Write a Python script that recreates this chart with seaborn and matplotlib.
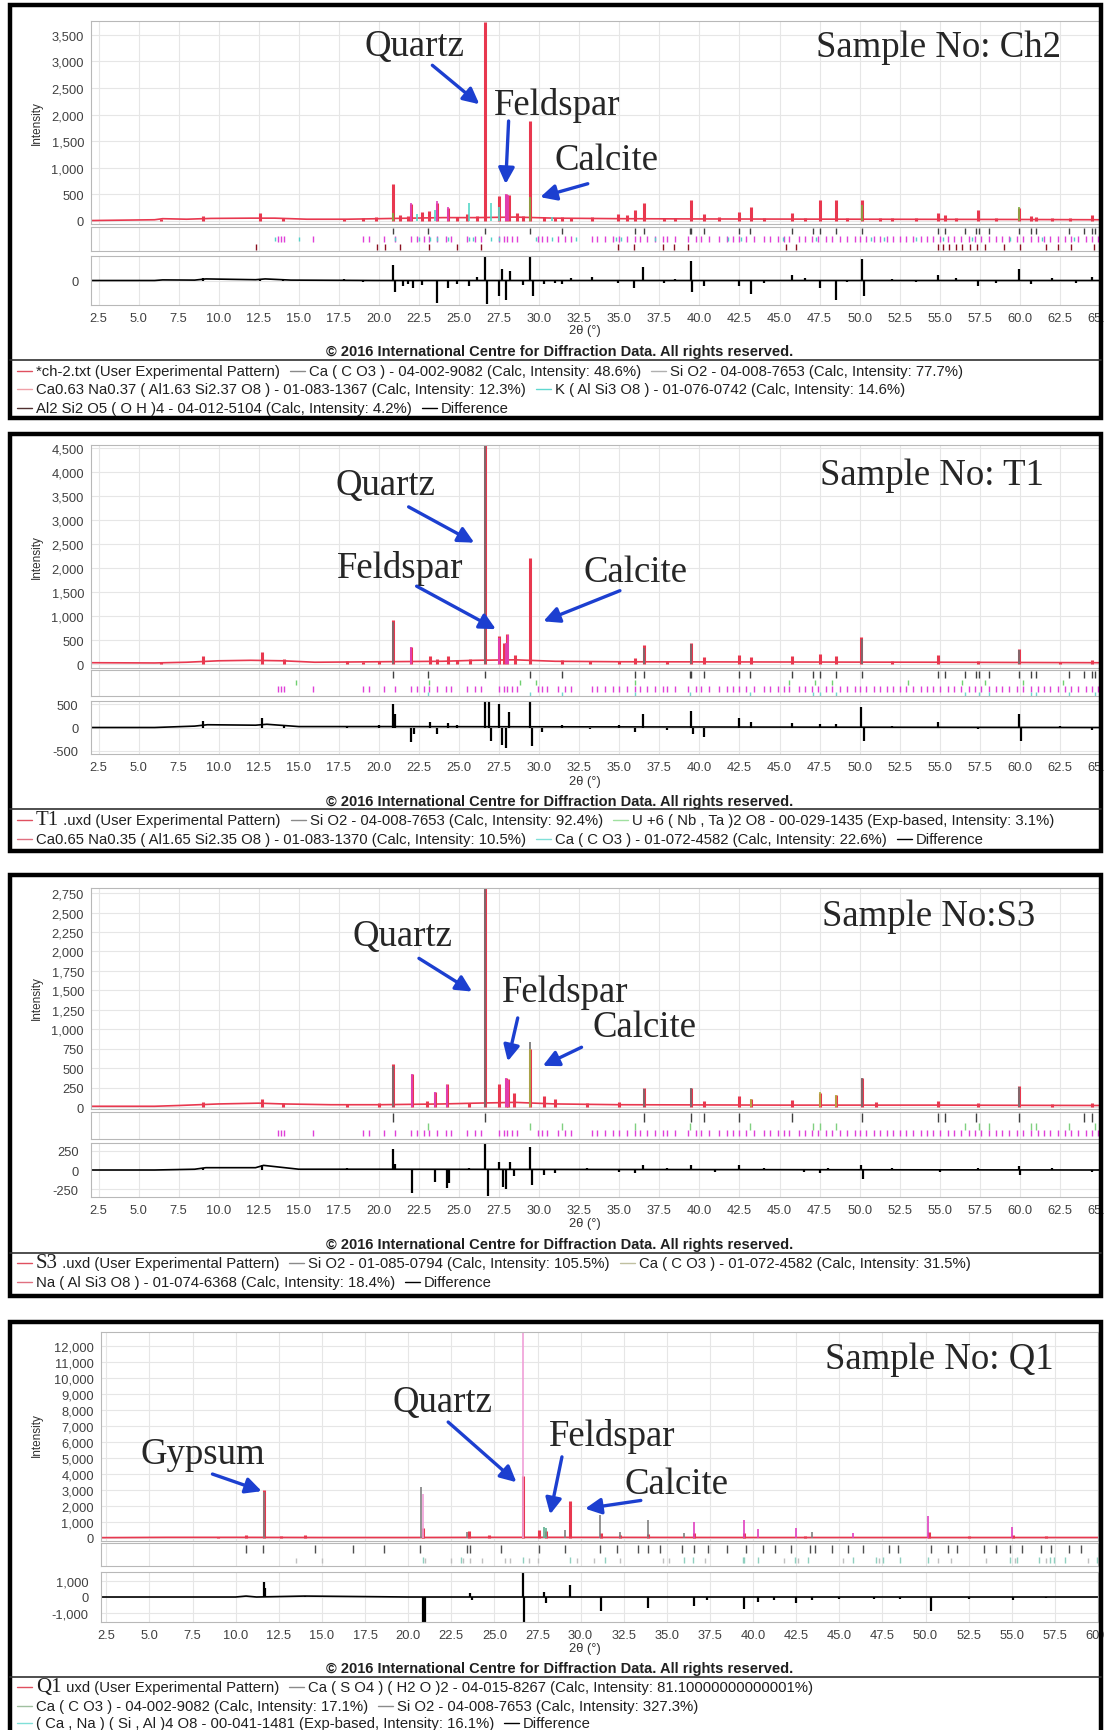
import numpy as np
import pandas as pd
import matplotlib
matplotlib.use("Agg")
import matplotlib.pyplot as plt
import seaborn as sns
from matplotlib.patches import Rectangle
from matplotlib.lines import Line2D
from matplotlib.ticker import MultipleLocator, FixedLocator, FuncFormatter

# --- 1. Data ---
# reference line positions (2theta) used in the tick strips
QUARTZ_REF = [20.86, 26.64, 36.54, 39.47, 40.29, 42.45, 45.79, 50.14, 54.87, 55.33, 57.24, 59.96, 63.99, 64.5]
CALCITE_REF = [23.06, 29.41, 31.44, 35.97, 39.42, 43.16, 47.12, 47.52, 48.52, 56.58, 57.42, 58.1, 60.68, 61.0, 63.07, 64.69]
PLAG_REF = [13.7, 13.9, 14.1, 15.9, 19.0, 19.4, 20.3, 21.0, 22.0, 22.4, 22.8, 23.1, 23.6, 24.2, 24.5, 25.5, 26.0,
            26.4, 27.5, 27.8, 28.0, 28.3, 28.6, 29.9, 30.2, 30.5, 31.2, 31.6, 32.0, 33.3, 33.6, 34.1, 34.6, 35.0,
            35.5, 36.0, 36.3, 36.7, 37.2, 37.7, 38.0, 38.5, 39.3, 39.8, 40.1, 40.6, 41.2, 41.7, 42.1, 42.5, 42.9,
            43.4, 44.0, 44.4, 44.9, 45.3, 45.6, 46.2, 46.6, 47.0, 47.4, 47.9, 48.3, 48.8, 49.2, 49.7, 50.0, 50.4,
            50.9, 51.3, 51.7, 52.1, 52.5, 52.9, 53.3, 53.8, 54.2, 54.6, 55.0, 55.5, 55.9, 56.3, 56.8, 57.2, 57.6,
            58.1, 58.5, 58.9, 59.3, 59.8, 60.2, 60.7, 61.1, 61.5, 61.9, 62.4, 62.8, 63.2, 63.6, 64.1, 64.5, 64.9]
KSPAR_REF = [13.5, 15.0, 21.0, 22.5, 23.2, 23.6, 24.3, 25.6, 25.9, 27.0, 27.5, 29.8, 30.8, 32.3, 34.8, 35.1,
             37.2, 41.8, 42.6, 45.2, 47.3, 50.7, 51.5, 53.5, 55.2, 57.0, 59.4, 61.4, 63.4]
KAOL_REF = [12.35, 19.9, 20.4, 21.3, 23.1, 24.9, 26.4, 34.9, 35.9, 37.7, 38.4, 39.3, 45.4, 46.0, 54.9, 55.2,
            55.6, 56.0, 56.4, 56.9, 57.3, 57.8, 59.0, 60.0, 61.6, 62.4, 63.2, 64.6]
GYPSUM_REF = [10.6, 11.6, 14.6, 16.8, 18.6, 20.7, 23.4, 23.6, 25.4, 27.6, 29.1, 31.1, 32.1, 33.3, 33.9, 34.6,
              35.9, 36.6, 37.4, 38.5, 39.6, 40.6, 41.3, 42.2, 43.3, 43.6, 44.6, 45.5, 46.4, 47.9, 48.4, 50.3,
              51.3, 51.8, 53.4, 54.1, 54.9, 55.6, 56.7, 57.3, 58.3, 59.0]
UNB_REF = [14.8, 23.1, 28.8, 29.8, 36.0, 45.6, 47.2, 48.3, 53.0, 56.4, 57.8, 60.2, 62.7]

# Sample Ch2
CH2_BG_X = [2.0, 6.0, 6.5, 8.0, 9.5, 12.0, 13.5, 15.5, 18.0, 20.0, 24.0, 26.0, 28.5, 31.0, 35.0, 40.0, 50.0, 60.0, 65.0]
CH2_BG_Y = [5, 20, 40, 30, 45, 50, 50, 30, 30, 40, 60, 60, 70, 50, 40, 35, 30, 25, 20]
CH2_PEAK_X = [6.4, 9.0, 12.6, 14.0, 17.8, 19.0, 19.8, 20.85, 21.3, 21.8, 22.0, 22.7, 23.1, 23.6, 24.3, 24.9, 25.5,
              26.1, 26.65, 27.5, 27.95, 28.1, 28.6, 29.0, 29.45, 30.3, 31.0, 31.4, 32.0, 33.3, 34.9, 35.5, 36.0,
              36.55, 37.8, 38.5, 39.45, 40.3, 41.2, 42.45, 43.2, 44.0, 45.8, 46.6, 47.55, 48.55, 49.2, 50.15, 51.3,
              52.0, 53.5, 54.9, 55.3, 56.0, 57.4, 58.5, 59.95, 60.7, 61.0, 62.0, 63.1, 64.5]
CH2_PEAK_Y = [40, 90, 150, 60, 40, 50, 70, 700, 100, 90, 320, 160, 180, 330, 240, 80, 120, 90, 3750, 460, 500, 480,
              150, 90, 1870, 70, 60, 80, 50, 70, 120, 100, 210, 330, 60, 50, 400, 130, 80, 160, 260, 60, 150, 50,
              400, 400, 60, 390, 60, 50, 50, 140, 100, 60, 200, 50, 250, 90, 80, 60, 60, 100]
CH2_KSP_X = [22.4, 23.5, 25.6, 27.0, 27.5, 30.8]
CH2_KSP_Y = [120, 200, 340, 330, 260, 80]
CH2_PLG_X = [22.0, 23.6, 24.3, 27.9, 28.05]
CH2_PLG_Y = [340, 380, 260, 500, 480]
CH2_CAL_X = [20.85, 29.45, 50.15, 59.95]
CH2_CAL_Y = [140, 450, 300, 260]
CH2_DIFF_BG_X = [2.0, 6.0, 6.5, 8.5, 9.2, 12.3, 12.9, 14.5, 20.0, 65.0]
CH2_DIFF_BG_Y = [0, 0, 15, 10, 40, 20, 40, 10, 0, 0]
CH2_DIFF_X = [9.0, 12.6, 14.0, 17.8, 19.0, 20.85, 21.0, 21.5, 21.8, 22.1, 22.7, 23.6, 24.3, 24.9, 25.6, 26.1, 26.6,
              26.75, 27.5, 27.7, 27.95, 28.2, 29.0, 29.4, 29.6, 30.3, 31.0, 31.4, 32.0, 33.3, 34.9, 35.9, 36.5,
              37.8, 38.5, 39.45, 39.55, 40.3, 42.45, 43.2, 44.0, 45.8, 46.6, 47.5, 48.5, 49.2, 50.15, 50.3, 52.0,
              53.5, 54.9, 56.0, 57.4, 58.5, 59.95, 60.7, 62.0, 63.5, 64.5]
CH2_DIFF_Y = [60, 50, 40, 30, -40, 400, -300, -150, -100, -200, -120, -580, -200, -90, -150, 80, 600, -600, -400,
              300, -500, 250, -120, 600, -400, -100, -60, -80, 60, 90, -70, -200, 350, -70, 50, 500, -300, -150,
              -150, -350, -60, 150, 60, -200, -500, -50, 550, -400, 40, -50, 150, 60, -150, -60, 300, -100, 60,
              -70, 80]

# Sample T1
T1_BG_X = [2.0, 6.0, 8.0, 10.0, 12.0, 14.0, 16.0, 20.0, 24.0, 26.0, 28.5, 31.0, 35.0, 45.0, 55.0, 65.0]
T1_BG_Y = [30, 25, 40, 70, 80, 70, 40, 50, 60, 80, 90, 60, 50, 45, 40, 30]
T1_PEAK_X = [6.4, 9.0, 12.7, 14.1, 18.0, 19.0, 20.0, 20.85, 22.0, 23.2, 23.6, 24.3, 24.9, 25.7, 26.65, 27.5, 27.8,
             28.0, 28.5, 29.45, 31.4, 33.2, 35.0, 36.0, 36.55, 38.0, 39.45, 40.3, 42.45, 43.2, 45.8, 47.5, 48.5,
             50.1, 52.0, 54.9, 57.4, 59.95, 62.5, 64.5]
T1_PEAK_Y = [40, 175, 255, 117, 60, 50, 70, 915, 365, 172, 100, 172, 80, 100, 4550, 585, 450, 620, 186, 2200, 80,
             60, 70, 137, 390, 60, 450, 150, 186, 150, 172, 206, 172, 570, 60, 186, 70, 323, 50, 80]
T1_QTZ_X = [20.86, 26.64, 36.54, 39.47, 50.14, 59.96]
T1_QTZ_Y = [880, 4550, 330, 420, 520, 300]
T1_PLG_X = [22.0, 27.5, 27.9, 28.05]
T1_PLG_Y = [360, 550, 450, 600]
T1_DIFF_BG_X = [2.0, 6.0, 8.5, 9.3, 12.3, 13.0, 15.0, 20.0, 65.0]
T1_DIFF_BG_Y = [0, 0, 30, 60, 50, 70, 20, 20, 0]
T1_DIFF_X = [9.0, 12.7, 14.1, 18.0, 20.0, 20.85, 21.0, 22.0, 22.2, 23.2, 23.6, 24.3, 24.9, 26.6, 26.85, 27.0, 27.5,
             27.7, 27.9, 28.1, 29.4, 29.55, 30.2, 31.4, 33.2, 35.0, 36.0, 36.5, 38.0, 39.45, 39.6, 40.3, 42.45,
             43.2, 45.8, 47.5, 48.5, 50.1, 50.25, 52.0, 54.9, 57.4, 59.95, 60.05, 62.5, 64.5]
T1_DIFF_Y = [150, 200, 60, 40, 50, 520, 300, -320, -150, 130, -150, 100, 60, 575, 575, -300, 520, -380, -450, 330,
             575, -400, -100, 60, -40, 50, -100, 300, -50, 350, -150, -200, 200, 120, 100, 80, 70, 450, -300, 40,
             130, -40, 300, -300, 40, -50]

# Sample S3
S3_BG_X = [2.0, 6.0, 7.5, 10.0, 12.5, 14.0, 17.0, 20.0, 24.0, 26.0, 28.5, 31.0, 35.0, 45.0, 55.0, 65.0]
S3_BG_Y = [10, 10, 20, 40, 50, 40, 30, 30, 40, 50, 60, 40, 30, 25, 25, 20]
S3_PEAK_X = [9.0, 12.7, 14.0, 18.0, 20.0, 20.85, 22.05, 23.0, 23.5, 24.25, 25.6, 26.65, 27.5, 27.9, 28.05, 28.4,
             29.45, 30.3, 31.0, 33.0, 35.0, 36.55, 39.45, 40.3, 42.45, 43.2, 45.8, 47.5, 48.5, 50.15, 51.0, 54.9,
             57.4, 59.95, 62.0, 64.5]
S3_PEAK_Y = [64, 107, 50, 40, 50, 548, 420, 77, 193, 290, 55, 2810, 290, 375, 355, 184, 740, 140, 100, 50, 60, 250,
             250, 77, 140, 107, 86, 184, 150, 377, 60, 77, 55, 270, 40, 50]
S3_QTZ_X = [20.86, 26.64, 29.41, 36.54, 39.47, 50.14, 59.96]
S3_QTZ_Y = [530, 2810, 830, 230, 240, 370, 260]
S3_CAL_X = [29.41, 43.2, 47.5, 48.5]
S3_CAL_Y = [750, 100, 190, 150]
S3_PLG_X = [22.05, 23.5, 24.25, 27.9, 28.05]
S3_PLG_Y = [420, 190, 280, 370, 350]
S3_DIFF_BG_X = [2.0, 6.0, 8.5, 9.2, 12.3, 12.8, 15.0, 20.0, 65.0]
S3_DIFF_BG_Y = [0, 0, 10, 30, 30, 60, 10, 10, 0]
S3_DIFF_X = [9.0, 12.7, 18.0, 20.85, 21.0, 22.05, 23.5, 24.25, 24.4, 25.6, 26.6, 26.8, 27.5, 27.75, 27.95, 28.15,
             28.4, 29.4, 29.55, 30.3, 31.0, 33.0, 35.0, 36.0, 36.5, 38.0, 39.45, 41.0, 42.45, 44.0, 46.5, 47.5,
             48.0, 50.1, 50.2, 52.0, 55.0, 57.4, 59.95, 60.0, 62.0, 64.5]
S3_DIFF_Y = [30, 60, 20, 270, 80, -300, -150, -230, -170, 30, 340, -340, 100, -220, -240, 100, -80, 300, -200, -60,
             -40, 30, -30, -40, 60, 20, 70, -20, 60, 20, -30, -40, 30, 60, -120, 20, -20, 20, 50, -60, 20, -30]

# Sample Q1
Q1_BG_X = [2.0, 6.0, 10.0, 15.0, 20.0, 25.0, 30.0, 40.0, 50.0, 60.0]
Q1_BG_Y = [20, 40, 40, 30, 30, 40, 40, 30, 30, 30]
Q1_PEAK_X = [9.0, 10.6, 11.65, 12.6, 14.0, 20.85, 23.5, 24.7, 26.65, 27.6, 28.0, 29.4, 31.2, 32.3, 33.9, 36.6,
             39.5, 43.0, 50.2, 52.5, 55.1, 57.0]
Q1_PEAK_Y = [80, 210, 3000, 150, 170, 600, 440, 170, 3900, 480, 450, 2330, 300, 200, 250, 300, 300, 150, 400, 100,
             200, 100]
Q1_QTZ_X = [20.86, 26.64]
Q1_QTZ_Y = [2770, 12900]
Q1_QTZ2_X = [36.55, 39.5, 40.3, 42.5, 45.8, 50.15, 55.0]
Q1_QTZ2_Y = [1000, 1100, 580, 650, 300, 1400, 690]
Q1_GYP_X = [11.65, 20.75, 23.4, 29.1, 31.15, 32.3, 33.9, 36.0, 43.4]
Q1_GYP_Y = [2900, 3180, 400, 500, 1460, 375, 1100, 300, 375]
Q1_FSP_X = [27.9, 28.0]
Q1_FSP_Y = [690, 600]
Q1_DIFF_BG_X = [2.0, 10.0, 10.6, 11.2, 14.0, 20.0, 60.0]
Q1_DIFF_BG_Y = [0, 0, 60, 0, 60, 0, 0]
Q1_DIFF_X = [11.65, 11.7, 14.0, 20.85, 21.0, 23.6, 23.7, 26.65, 26.7, 27.9, 28.0, 29.4, 31.2, 33.9, 36.6, 37.3,
             39.5, 40.3, 41.2, 42.5, 43.4, 45.0, 47.0, 48.5, 50.3, 52.5, 55.1, 57.0]
Q1_DIFF_Y = [950, 600, 80, -1610, -1610, 250, -200, 1610, -1610, 300, -400, 800, -900, -700, -600, -200, -800,
             -300, -200, -400, -200, -100, -150, -100, -900, -100, -200, -80]

# --- 2. Styling ---
W, H = 1104, 1731
RED = "#e8384f"
BLUE = "#1c3fd0"
sns.set_style("whitegrid", {"grid.color": "#e6e6e6", "axes.edgecolor": "#b8b8b8"})
plt.rcParams['font.family'] = ['Liberation Sans', 'DejaVu Sans']


def fbox(x0, y0, x1, y1):
    """Pixel box (top-left origin) to figure fraction."""
    return [x0 / W, 1 - y1 / H, (x1 - x0) / W, (y1 - y0) / H]


PANELS = [
    dict(box=(10, 6, 1101, 419), left=91, right=1100, main=(22, 225), strip=(228, 252), dbox=(257, 306),
         xlim=(2.03, 65.0), ylim=(-60, 3760), ystep=500, dlim=(-620, 620), dticks=[0],
         ylab=123, theta=331, copy=352, sep=361, rows=[372, 390, 409],
         bg=(CH2_BG_X, CH2_BG_Y), peaks=(CH2_PEAK_X, CH2_PEAK_Y),
         calc=[(CH2_KSP_X, CH2_KSP_Y, "#55d8c8"), (CH2_PLG_X, CH2_PLG_Y, "#e040c0"), (CH2_CAL_X, CH2_CAL_Y, "#7fb040")],
         dbg=(CH2_DIFF_BG_X, CH2_DIFF_BG_Y), diff=(CH2_DIFF_X, CH2_DIFF_Y),
         ticks=[(QUARTZ_REF + CALCITE_REF, "#404040", 0.70, 0.95), (PLAG_REF, "#e040d8", 0.38, 0.62),
                (KSPAR_REF, "#50d0c8", 0.40, 0.60), (KAOL_REF, "#8a1020", 0.06, 0.30)],
         labels=[("Quartz", (22.2, 3300), (23.2, 2960), (26.4, 2160)),
                 ("Feldspar", (31.1, 2190), (28.1, 1930), (27.9, 640)),
                 ("Calcite", (34.2, 1140), (33.2, 712), (29.9, 431))],
         sample=("Sample No: Ch2", (54.9, 3280)),
         legend=[[("#e05060", "*ch-2.txt (User Experimental Pattern)"),
                  ("#8a8a8a", "Ca ( C O3 ) - 04-002-9082 (Calc, Intensity: 48.6%)"),
                  ("#b0b0b0", "Si O2 - 04-008-7653 (Calc, Intensity: 77.7%)")],
                 [("#f0a0a8", "Ca0.63 Na0.37 ( Al1.63 Si2.37 O8 ) - 01-083-1367 (Calc, Intensity: 12.3%)"),
                  ("#60d8d0", "K ( Al Si3 O8 ) - 01-076-0742 (Calc, Intensity: 14.6%)")],
                 [("#503030", "Al2 Si2 O5 ( O H )4 - 04-012-5104 (Calc, Intensity: 4.2%)"),
                  ("#000000", "Difference")]]),
    dict(box=(10, 435, 1101, 852), left=91, right=1100, main=(446, 669), strip=(671, 697), dbox=(702, 755),
         xlim=(2.03, 65.0), ylim=(-80, 4560), ystep=500, dlim=(-575, 575), dticks=[-500, 0, 500],
         ylab=557, theta=782, copy=802, sep=810, rows=[821, 840],
         bg=(T1_BG_X, T1_BG_Y), peaks=(T1_PEAK_X, T1_PEAK_Y),
         calc=[(T1_QTZ_X, T1_QTZ_Y, "#707070"), (T1_PLG_X, T1_PLG_Y, "#e040c0")],
         dbg=(T1_DIFF_BG_X, T1_DIFF_BG_Y), diff=(T1_DIFF_X, T1_DIFF_Y),
         ticks=[(QUARTZ_REF + CALCITE_REF, "#404040", 0.68, 0.95), (UNB_REF, "#70d070", 0.42, 0.62),
                (PLAG_REF, "#e040d8", 0.15, 0.40), (CALCITE_REF, "#70d8d0", 0.0, 0.14)],
         labels=[("Quartz", (20.4, 3735), (21.7, 3300), (26.1, 2500)),
                 ("Feldspar", (21.3, 2020), (22.2, 1650), (27.45, 700)),
                 ("Calcite", (36.0, 1920), (35.2, 1550), (30.1, 870))],
         sample=("Sample No: T1", (54.5, 3950)),
         legend=[[("#e05060", ("T1", " .uxd (User Experimental Pattern)")),
                  ("#8a8a8a", "Si O2 - 04-008-7653 (Calc, Intensity: 92.4%)"),
                  ("#a0e0a0", "U +6 ( Nb , Ta )2 O8 - 00-029-1435 (Exp-based, Intensity: 3.1%)")],
                 [("#e07080", "Ca0.65 Na0.35 ( Al1.65 Si2.35 O8 ) - 01-083-1370 (Calc, Intensity: 10.5%)"),
                  ("#80e0d8", "Ca ( C O3 ) - 01-072-4582 (Calc, Intensity: 22.6%)"),
                  ("#000000", "Difference")]]),
    dict(box=(10, 876, 1101, 1297), left=91, right=1100, main=(889, 1110), strip=(1113, 1140), dbox=(1144, 1198),
         xlim=(2.03, 65.0), ylim=(-25, 2815), ystep=250, dlim=(-350, 350), dticks=[-250, 0, 250],
         ylab=998, theta=1224, copy=1245, sep=1254, rows=[1264, 1283],
         bg=(S3_BG_X, S3_BG_Y), peaks=(S3_PEAK_X, S3_PEAK_Y),
         calc=[(S3_QTZ_X, S3_QTZ_Y, "#707070"), (S3_CAL_X, S3_CAL_Y, "#b0b040"), (S3_PLG_X, S3_PLG_Y, "#e040c0")],
         dbg=(S3_DIFF_BG_X, S3_DIFF_BG_Y), diff=(S3_DIFF_X, S3_DIFF_Y),
         ticks=[(QUARTZ_REF, "#404040", 0.62, 0.95), (CALCITE_REF, "#80d080", 0.32, 0.60),
                (PLAG_REF, "#e040d8", 0.10, 0.32)],
         labels=[("Quartz", (21.5, 2200), (22.35, 1930), (25.96, 1465)),
                 ("Feldspar", (31.6, 1480), (28.7, 1180), (28.0, 553)),
                 ("Calcite", (36.6, 1030), (32.8, 784), (30.07, 514))],
         sample=("Sample No:S3", (54.3, 2460)),
         legend=[[("#e05060", ("S3", " .uxd (User Experimental Pattern)")),
                  ("#8a8a8a", "Si O2 - 01-085-0794 (Calc, Intensity: 105.5%)"),
                  ("#c0c0a0", "Ca ( C O3 ) - 01-072-4582 (Calc, Intensity: 31.5%)")],
                 [("#e07080", "Na ( Al Si3 O8 ) - 01-074-6368 (Calc, Intensity: 18.4%)"),
                  ("#000000", "Difference")]]),
    dict(box=(10, 1323, 1101, 1760), left=101, right=1098, main=(1333, 1542), strip=(1544, 1567), dbox=(1573, 1623),
         xlim=(2.19, 60.0), ylim=(-190, 12900), ystep=1000, dlim=(-1610, 1610), dticks=[-1000, 0, 1000],
         ylab=1435, theta=1649, copy=1669, sep=1678, rows=[1688, 1707, 1724],
         bg=(Q1_BG_X, Q1_BG_Y), peaks=(Q1_PEAK_X, Q1_PEAK_Y),
         calc=[(Q1_QTZ_X, Q1_QTZ_Y, "#f0a0d8"), (Q1_QTZ2_X, Q1_QTZ2_Y, "#e040c0"), (Q1_GYP_X, Q1_GYP_Y, "#808080"),
               (Q1_FSP_X, Q1_FSP_Y, "#60b090")],
         dbg=(Q1_DIFF_BG_X, Q1_DIFF_BG_Y), diff=(Q1_DIFF_X, Q1_DIFF_Y),
         ticks=[(GYPSUM_REF, "#505050", 0.58, 0.92), (CALCITE_REF + QUARTZ_REF, "#90d0c0", 0.12, 0.40),
                (KSPAR_REF, "#c0c0c0", 0.12, 0.36)],
         labels=[("Gypsum", (8.1, 5300), (8.5, 4060), (11.66, 2875)),
                 ("Quartz", (22.0, 8560), (22.2, 7375), (26.4, 3375)),
                 ("Feldspar", (31.85, 6440), (28.95, 5250), (28.2, 1310)),
                 ("Calcite", (35.56, 3375), (33.65, 2375), (30.1, 1810))],
         sample=("Sample No: Q1", (50.8, 11250)),
         legend=[[("#e05060", ("Q1", " uxd (User Experimental Pattern)")),
                  ("#8a8a8a", "Ca ( S O4 ) ( H2 O )2 - 04-015-8267 (Calc, Intensity: 81.10000000000001%)")],
                 [("#a0c0a0", "Ca ( C O3 ) - 04-002-9082 (Calc, Intensity: 17.1%)"),
                  ("#8a8a8a", "Si O2 - 04-008-7653 (Calc, Intensity: 327.3%)")],
                 [("#80e0d8", "( Ca , Na ) ( Si , Al )4 O8 - 00-041-1481 (Exp-based, Intensity: 16.1%)"),
                  ("#000000", "Difference")]]),
]


def style_axis(ax, p):
    ax.set_xlim(*p['xlim'])
    ax.xaxis.set_major_locator(MultipleLocator(2.5))
    ax.grid(True, color="#e6e6e6", lw=0.8)
    for s in ax.spines.values():
        s.set_color("#b8b8b8")
        s.set_linewidth(0.8)
    ax.tick_params(axis='both', labelsize=9.3, colors='#404040', length=3, width=0.6, pad=2)
    ax.set_xlabel('')
    ax.set_ylabel('')


def legend_row(fig, renderer, y, items):
    x = 17
    for color, label in items:
        fig.add_artist(Line2D([x / W, (x + 15) / W], [1 - y / H] * 2, color=color, lw=1.0,
                              transform=fig.transFigure))
        x += 19
        if isinstance(label, tuple):
            t = fig.text(x / W, 1 - y / H, label[0], family='Liberation Serif', fontsize=15,
                         va='center', color='#202020')
            x += t.get_window_extent(renderer).width
            label = label[1]
        t = fig.text(x / W, 1 - y / H, label, fontsize=10.7, va='center', color='#202020')
        x += t.get_window_extent(renderer).width + 10


def draw_panel(fig, renderer, p):
    # --- main pattern ---
    ax = fig.add_axes(fbox(p['left'], p['main'][0], p['right'], p['main'][1]))
    bg = pd.DataFrame({'x': p['bg'][0], 'y': p['bg'][1]})
    sns.lineplot(data=bg, x='x', y='y', color=RED, lw=1.2, ax=ax)
    ax.vlines(p['peaks'][0], 0, p['peaks'][1], color=RED, lw=2.2)
    for xs, ys, c in p['calc']:
        ax.vlines(xs, 0, ys, color=c, lw=1.2)
    style_axis(ax, p)
    ax.set_ylim(*p['ylim'])
    ax.yaxis.set_major_locator(MultipleLocator(p['ystep']))
    ax.yaxis.set_major_formatter(FuncFormatter(lambda v, pos: f"{v:,.0f}"))
    ax.tick_params(axis='x', labelbottom=False, length=0)

    for name, txt_xy, tail, head in p['labels']:
        ax.text(*txt_xy, name, family='Liberation Serif', fontsize=26.5, ha='center', va='center')
        ax.annotate('', xy=head, xytext=tail,
                    arrowprops=dict(arrowstyle='-|>', color=BLUE, lw=2.4, mutation_scale=24))
    ax.text(*p['sample'][1], p['sample'][0], family='Liberation Serif', fontsize=26.5, ha='center', va='center')

    # --- reference tick strip ---
    axs = fig.add_axes(fbox(p['left'], p['strip'][0], p['right'], p['strip'][1]))
    for xs, c, y0, y1 in p['ticks']:
        axs.vlines(xs, y0, y1, color=c, lw=1.0, transform=axs.get_xaxis_transform())
    style_axis(axs, p)
    axs.set_ylim(0, 1)
    axs.tick_params(labelbottom=False, labelleft=False, length=0)
    axs.yaxis.set_major_locator(FixedLocator([]))

    # --- difference curve ---
    axd = fig.add_axes(fbox(p['left'], p['dbox'][0], p['right'], p['dbox'][1]))
    dbg = pd.DataFrame({'x': p['dbg'][0], 'y': p['dbg'][1]})
    sns.lineplot(data=dbg, x='x', y='y', color='black', lw=1.2, ax=axd)
    axd.vlines(p['diff'][0], 0, p['diff'][1], color='black', lw=1.6)
    style_axis(axd, p)
    axd.set_ylim(*p['dlim'])
    axd.yaxis.set_major_locator(FixedLocator(p['dticks']))
    axd.yaxis.set_major_formatter(FuncFormatter(lambda v, pos: f"{v:,.0f}"))
    axd.xaxis.set_major_formatter(FuncFormatter(lambda v, pos: f"{v:.1f}"))
    axd.tick_params(axis='y', pad=6)

    # --- frame and captions ---
    x0, y0, x1, y1 = p['box']
    fig.add_artist(Rectangle((x0 / W, 1 - y1 / H), (x1 - x0) / W, (y1 - y0) / H, fill=False,
                             lw=3.2, ec='black', transform=fig.transFigure))
    fig.add_artist(Line2D([x0 / W, x1 / W], [1 - p['sep'] / H] * 2, color='#303030', lw=1.2,
                          transform=fig.transFigure))
    fig.text(37 / W, 1 - p['ylab'] / H, 'Intensity', rotation=90, fontsize=8.5, va='center', ha='center',
             color='#303030')
    fig.text(585 / W, 1 - p['theta'] / H, '2θ (°)', fontsize=9.3, va='center', ha='center', color='#303030')
    fig.text(560 / W, 1 - p['copy'] / H, '© 2016 International Centre for Diffraction Data. All rights reserved.',
             fontsize=10.5, weight='bold', va='center', ha='center', color='#202020')
    for y, items in zip(p['rows'], p['legend']):
        legend_row(fig, renderer, y, items)


fig = plt.figure(figsize=(W / 100, H / 100), dpi=100)
fig.patch.set_facecolor('white')
renderer = fig.canvas.get_renderer()
for panel in PANELS:
    draw_panel(fig, renderer, panel)

fig.savefig("out.png", dpi=100)
